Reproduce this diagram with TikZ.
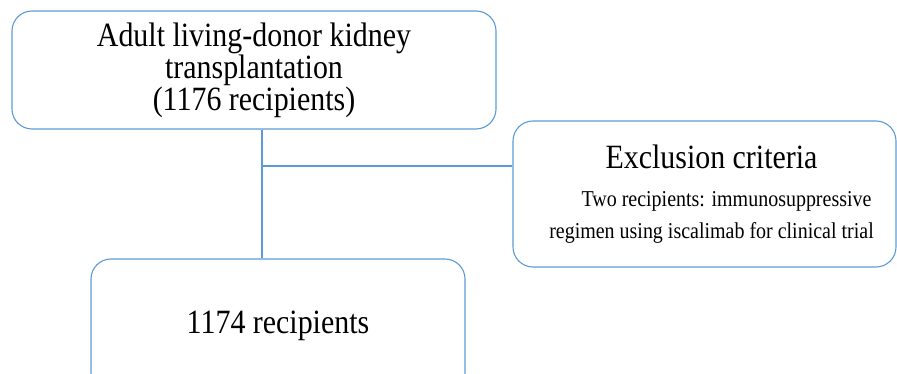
\documentclass[tikz,border=0pt]{standalone}
\usepackage{fontspec}
\setmainfont{Liberation Serif}[FakeStretch=0.88]
\definecolor{flowblue}{RGB}{91,155,213}
\newcommand{\smalltxt}{\fontsize{22.7}{31}\selectfont}
\begin{document}
\begin{tikzpicture}[x=1pt, y=-1pt, font=\fontsize{34}{32}\selectfont,
    box/.style={draw=flowblue, line width=1.1pt, rounded corners=20pt, align=center, inner sep=0pt},
    link/.style={draw=flowblue, line width=2.2pt}]
    \useasboundingbox (0,0) rectangle (897,374);
    \clip (0,0) rectangle (897,374);
    \node[box, minimum width=484pt, minimum height=118pt] (donor) at (254,70)
        {Adult living-donor kidney\\transplantation\\(1176 recipients)};
    \node[box, minimum width=383pt, minimum height=146pt] (excl) at (704.5,194)
        {\hspace*{14pt}Exclusion criteria\\[6pt]
         \smalltxt\hspace*{44pt}Two recipients: immunosuppressive\\
         \smalltxt\hspace*{14pt}regimen using iscalimab for clinical trial};
    \node[box, minimum width=374pt, minimum height=134pt] (kept) at (278,326) {1174 recipients};
    \coordinate (split) at (262,166);
    \draw[link] ([xshift=8pt]donor.south) -- ([xshift=8pt]donor.south |- kept.north);
    \draw[link] (split) -- (split -| excl.west);
\end{tikzpicture}
\end{document}
